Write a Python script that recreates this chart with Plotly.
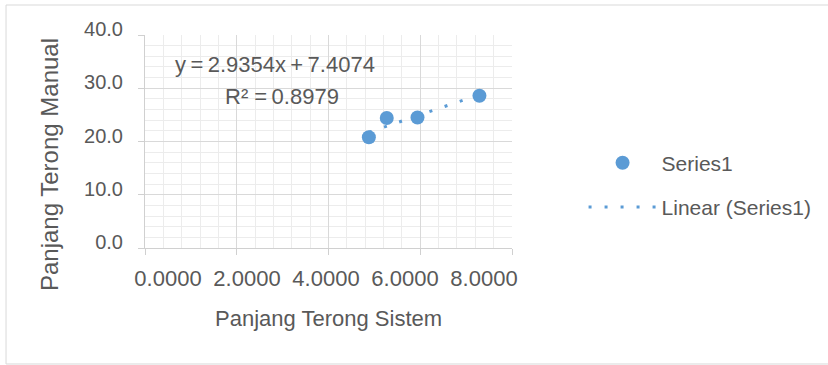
import numpy as np
import plotly.graph_objects as go

# Data
x_sistem = [4.88, 5.27, 5.94, 7.29]
y_manual = [20.8, 24.4, 24.5, 28.6]
series_name = "Series1"
trend_name = "Linear (Series1)"
slope = 2.9354
intercept = 7.4074
r_squared = 0.8979
x_tick_vals = [0, 2, 4, 6, 8]
x_tick_text = ["0.0000", "2.0000", "4.0000", "6.0000", "8.0000"]
y_tick_vals = [0, 10, 20, 30, 40]
y_tick_text = ["0.0", "10.0", "20.0", "30.0", "40.0"]
x_title = "Panjang Terong Sistem"
y_title = "Panjang Terong Manual"

BLUE = "#5B9BD5"
TXT = "#595959"
FONT = "Liberation Sans, Arial, sans-serif"

trend_x = np.array([min(x_sistem), max(x_sistem)])
trend_y = slope * trend_x + intercept

fig = go.Figure()
fig.add_trace(go.Scatter(
    x=trend_x, y=trend_y, mode="lines", name=trend_name,
    line=dict(color=BLUE, width=3, dash="3px,13px"),
    legendrank=2, legendgroup="b", hoverinfo="skip"))
fig.add_trace(go.Scatter(
    x=x_sistem, y=y_manual, mode="markers", name=series_name,
    marker=dict(color=BLUE, size=14), legendrank=1, legendgroup="a"))
# invisible trace that carries the label axis
fig.add_trace(go.Scatter(x=[], y=[], xaxis="x2", showlegend=False))

eq_text = f"y\u2009=\u2009{slope:.4f}x\u2009+\u2009{intercept:.4f}"
r2_text = f"R\u00b2 =\u2009{r_squared:.4f}"

fig.update_layout(
    width=828, height=365,
    margin=dict(l=145, r=316, t=35, b=117),
    paper_bgcolor="white", plot_bgcolor="white",
    font=dict(family=FONT, color=TXT, size=20),
    showlegend=True,
    legend=dict(x=1.195, y=0.495, xanchor="left", yanchor="top",
                font=dict(size=21, color=TXT), itemwidth=68,
                tracegroupgap=14, traceorder="grouped",
                bgcolor="rgba(0,0,0,0)"),
    xaxis=dict(range=[0, 8], tickvals=x_tick_vals, showticklabels=False,
               showgrid=True, gridcolor="#d9d9d9", gridwidth=1,
               minor=dict(dtick=0.4, tick0=0, showgrid=True, gridcolor="#ececec", gridwidth=1),
               showline=True, linecolor="#d0d0d0", linewidth=1,
               ticks="outside", ticklen=6, tickcolor="#d0d0d0",
               zeroline=False, fixedrange=True),
    xaxis2=dict(overlaying="x", anchor="y", side="bottom",
                range=[-0.582, 8.709], tickvals=x_tick_vals, ticktext=x_tick_text,
                showgrid=False, showline=False, zeroline=False, ticks="",
                ticklabelstandoff=15,
                tickfont=dict(size=22, color=TXT)),
    yaxis=dict(range=[0, 40], tickvals=y_tick_vals, ticktext=y_tick_text,
               showgrid=True, gridcolor="#d9d9d9", gridwidth=1,
               minor=dict(dtick=2, tick0=0, showgrid=True, gridcolor="#ececec", gridwidth=1),
               showline=True, linecolor="#d0d0d0", linewidth=1,
               ticks="outside", ticklen=6, tickcolor="#d0d0d0",
               ticklabelstandoff=11, ticklabelshift=-6,
               tickfont=dict(size=20, color=TXT),
               zeroline=False, fixedrange=True),
    annotations=[
        dict(text=eq_text, x=2.83, y=34.4, xref="x", yref="y", showarrow=False,
             font=dict(size=22, color=TXT)),
        dict(text=r2_text, x=2.99, y=28.4, xref="x", yref="y", showarrow=False,
             font=dict(size=22, color=TXT)),
        dict(text=y_title, x=-0.2616, y=0.394, xref="paper", yref="paper",
             xanchor="center", yanchor="middle",
             textangle=-90, showarrow=False, font=dict(size=24, color=TXT)),
        dict(text=x_title, x=0.5, y=-0.329, xref="paper", yref="paper",
             xanchor="center", yanchor="middle",
             showarrow=False, font=dict(size=22, color=TXT)),
    ],
    shapes=[dict(type="rect", xref="paper", yref="paper",
                 x0=-0.3787, x1=1.87, y0=-0.5446, y1=1.1408,
                 line=dict(color="#d9d9d9", width=1), layer="below")],
)

fig.write_html("out.html")
